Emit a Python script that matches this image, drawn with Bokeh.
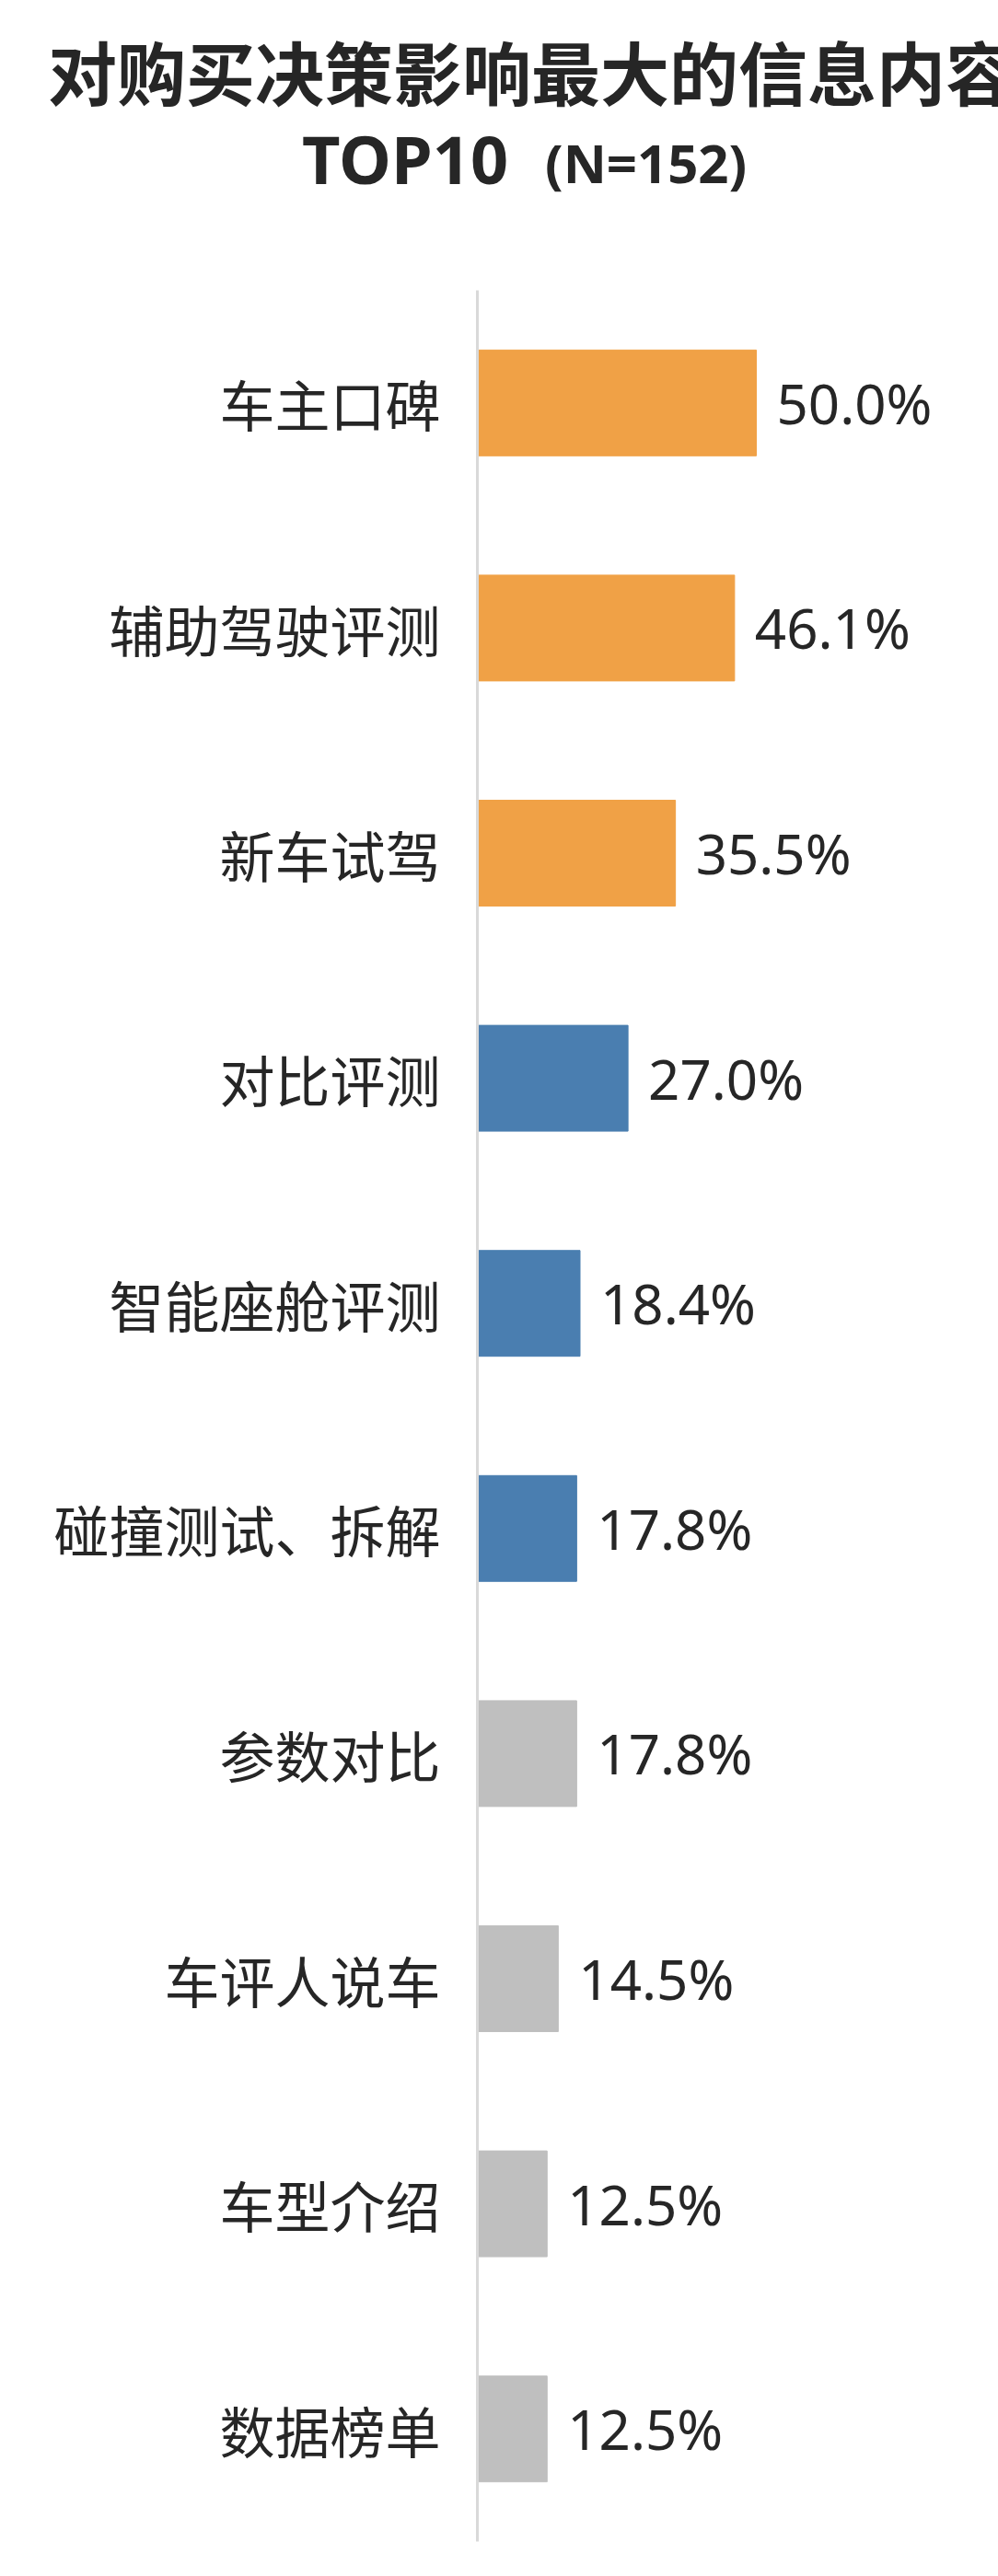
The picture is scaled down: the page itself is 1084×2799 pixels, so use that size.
from bokeh.plotting import figure
from bokeh.layouts import column
from bokeh.models import Range1d, FactorRange, ColumnDataSource, Div
from bokeh.core.properties import value
from bokeh.embed import file_html
from bokeh.resources import INLINE

# ---- data ----
categories = ["车主口碑", "辅助驾驶评测", "新车试驾", "对比评测", "智能座舱评测",
              "碰撞测试、拆解", "参数对比", "车评人说车", "车型介绍", "数据榜单"]
shares = [50.0, 46.1, 35.5, 27.0, 18.4, 17.8, 17.8, 14.5, 12.5, 12.5]
groups = ["top", "top", "top", "mid", "mid", "mid", "low", "low", "low", "low"]
title_main = "对购买决策影响最大的信息内容"
title_sub = "TOP10"
title_n = "(N=152)"

# ---- layout / style ----
W, H = 1084, 2799
HEAD = 300
LEFT, TOP, BOTTOM = 518, 15, 38
PX_PER_PCT = 6.06
palette = {"top": "#F0A146", "mid": "#4A7EB0", "low": "#BFBFBF"}
TXT = "#262626"


def span(txt, left, top, size, font):
    return (f'<span style="position:absolute;left:{left}px;top:{top}px;'
            f'font-family:\'{font}\';font-weight:bold;font-size:{size}px;'
            f'line-height:{size}px;white-space:nowrap;color:{TXT};">{txt}</span>')


head_html = (f'<div style="position:relative;width:{W}px;height:{HEAD}px;overflow:hidden;">'
             + span(title_main, 52, 39, 75, "Noto Sans CJK SC")
             + span(title_sub, 328, 136, 72, "Noto Sans")
             + span(title_n, 592, 148, 58, "Noto Sans")
             + '</div>')
head = Div(text=head_html, width=W, height=HEAD, margin=0)

# ---- chart ----
src = ColumnDataSource(dict(
    cat=categories,
    val=shares,
    color=[palette[g] for g in groups],
    label=[f"{v:.1f}%" for v in shares],
))

p = figure(width=W, height=H - HEAD,
           y_range=FactorRange(factors=list(reversed(categories))),
           x_range=Range1d(0, (W - LEFT) / PX_PER_PCT),
           output_backend="svg", toolbar_location=None,
           x_axis_location=None,
           min_border_left=LEFT, min_border_right=0,
           min_border_top=TOP, min_border_bottom=BOTTOM)
p.margin = 0

p.hbar(y="cat", left=0, right="val", height=0.47, color="color", source=src)
p.text(x="val", y="cat", text="label", x_offset=22,
       text_align="left", text_baseline="middle",
       text_font=value("Noto Sans"), text_font_size="60px",
       text_color=TXT, source=src)

ax = p.yaxis[0]
ax.major_label_text_font = "Noto Sans CJK SC"
ax.major_label_text_font_size = "60px"
ax.major_label_text_color = TXT
ax.major_tick_line_color = None
ax.minor_tick_line_color = None
ax.major_tick_out = 0
ax.major_tick_in = 0
ax.major_label_standoff = 40
ax.axis_line_color = "#D9D9D9"
ax.axis_line_width = 3

p.grid.visible = False
p.outline_line_color = None

layout = column(head, p, spacing=0)
open("out.html", "w").write(file_html(layout, INLINE))
